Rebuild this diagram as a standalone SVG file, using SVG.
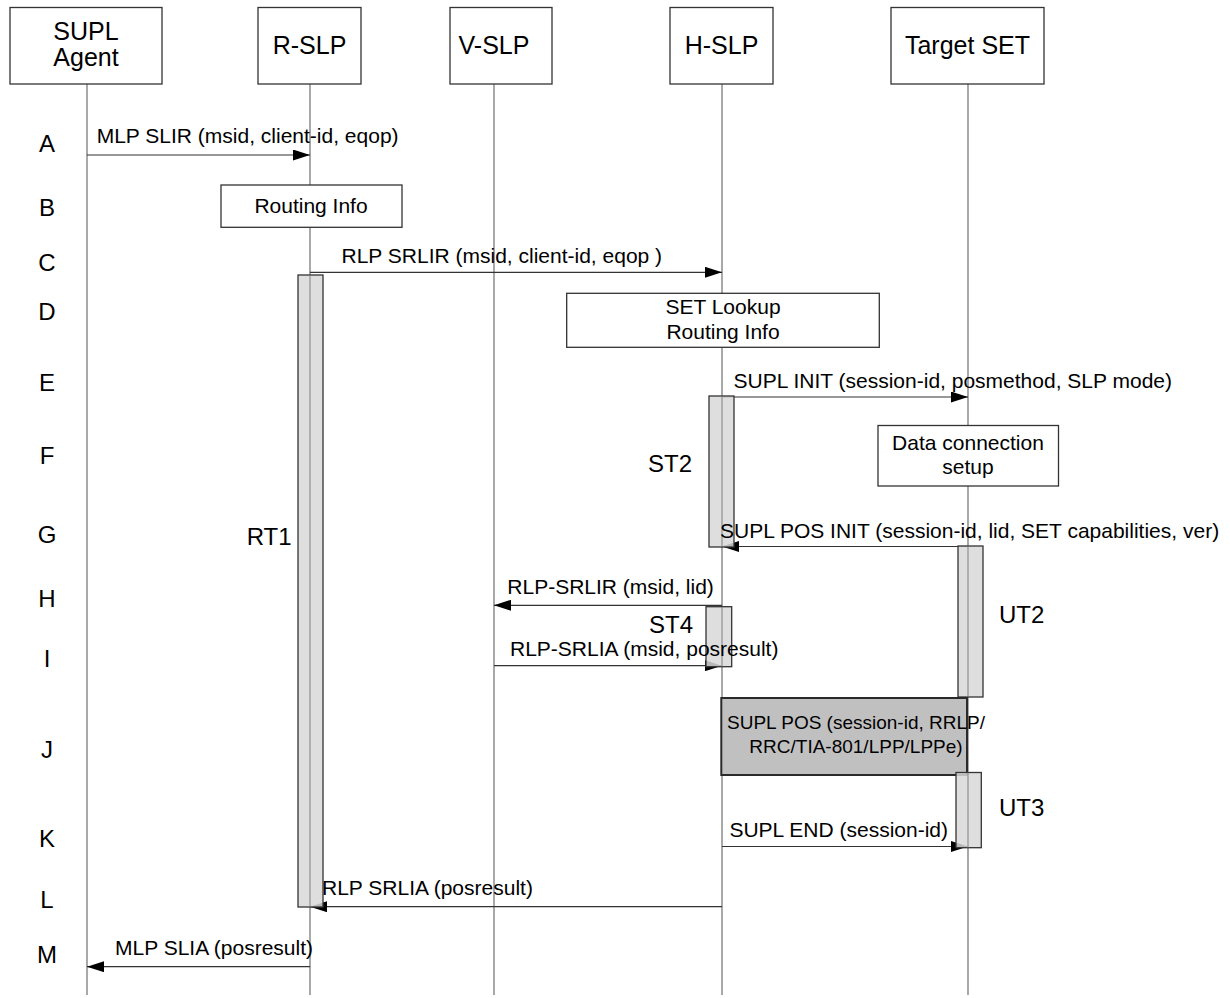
<svg xmlns="http://www.w3.org/2000/svg" width="1230" height="998" viewBox="0 0 1230 998">
<style>
text{font-family:"Liberation Sans",Arial,sans-serif;fill:#000}
.hdr{font-size:25px;text-anchor:middle}
.row{font-size:24px;text-anchor:middle}
.msg{font-size:21px}
.jt{font-size:19px;text-anchor:middle}
.mid{text-anchor:middle}
.tm{font-size:24px}
.box{fill:#fff;stroke:#333;stroke-width:1.3}
.life{stroke:#7a7a7a;stroke-width:1.3;fill:none}
.arr{stroke:#333;stroke-width:1.2;fill:none;marker-end:url(#ah)}
.bar{fill:#d8d8d8;fill-opacity:0.85;stroke:#333;stroke-width:1.3}
.jbox{fill:#c0c0c0;stroke:#2a2a2a;stroke-width:2}
</style>
<defs>
<marker id="ah" markerUnits="userSpaceOnUse" markerWidth="17" markerHeight="11" refX="17" refY="5.5" orient="auto">
<path d="M0,0 L17,5.5 L0,11 z" fill="#000"/>
</marker>
</defs>
<rect width="1230" height="998" fill="#fff"/>

<g id="lifelines">
<line class="life" x1="87" y1="84" x2="87" y2="995"/>
<line class="life" x1="310" y1="84" x2="310" y2="995"/>
<line class="life" x1="494" y1="84" x2="494" y2="995"/>
<line class="life" x1="722" y1="84" x2="722" y2="995"/>
<line class="life" x1="968" y1="84" x2="968" y2="995"/>
</g>

<g id="node-supl-agent">
<rect class="box" x="10" y="7.5" width="152" height="76.5"/>
<text class="hdr" x="86" y="39.5">SUPL</text>
<text class="hdr" x="86" y="66">Agent</text>
</g>
<g id="node-r-slp">
<rect class="box" x="258" y="7.5" width="103" height="76.5"/>
<text class="hdr" x="309.5" y="54">R-SLP</text>
</g>
<g id="node-v-slp">
<rect class="box" x="450" y="7.5" width="102" height="76.5"/>
<text class="hdr" x="494" y="54">V-SLP</text>
</g>
<g id="node-h-slp">
<rect class="box" x="670" y="7.5" width="103" height="76.5"/>
<text class="hdr" x="721.5" y="54">H-SLP</text>
</g>
<g id="node-target-set">
<rect class="box" x="891" y="7.5" width="153" height="76.5"/>
<text class="hdr" x="967.5" y="54">Target SET</text>
</g>

<g id="row-labels">
<text class="row" x="47" y="152.3">A</text>
<text class="row" x="47" y="215.7">B</text>
<text class="row" x="47" y="270.7">C</text>
<text class="row" x="47" y="320">D</text>
<text class="row" x="47" y="391">E</text>
<text class="row" x="47" y="464">F</text>
<text class="row" x="47" y="543.3">G</text>
<text class="row" x="47" y="607.3">H</text>
<text class="row" x="47" y="666.7">I</text>
<text class="row" x="47" y="758.3">J</text>
<text class="row" x="47" y="846.7">K</text>
<text class="row" x="47" y="907.7">L</text>
<text class="row" x="47" y="963.3">M</text>
</g>

<g id="node-routing-info">
<rect class="box" x="221" y="185" width="181" height="42.3"/>
<text class="msg mid" x="311" y="213">Routing Info</text>
</g>
<g id="node-set-lookup">
<rect class="box" x="566.7" y="293.3" width="312.6" height="54"/>
<text class="msg mid" x="723" y="314">SET Lookup</text>
<text class="msg mid" x="723" y="338.5">Routing Info</text>
</g>
<g id="node-data-connection">
<rect class="box" x="878" y="425.5" width="180.5" height="60.5"/>
<text class="msg mid" x="968" y="450">Data connection</text>
<text class="msg mid" x="968" y="474">setup</text>
</g>

<g id="connectors">
<line class="arr" x1="87" y1="155" x2="310" y2="155"/>
<line class="arr" x1="310" y1="272.3" x2="722" y2="272.3"/>
<line class="arr" x1="722" y1="397" x2="968" y2="397"/>
<line class="arr" x1="968" y1="546.5" x2="722" y2="546.5"/>
<line class="arr" x1="722" y1="605.3" x2="494" y2="605.3"/>
<line class="arr" x1="494" y1="665.7" x2="722" y2="665.7"/>
<line class="arr" x1="722" y1="846.5" x2="968" y2="846.5"/>
<line class="arr" x1="722" y1="906.7" x2="310" y2="906.7"/>
<line class="arr" x1="310" y1="966.7" x2="87" y2="966.7"/>
</g>

<g id="node-rt1">
<rect class="bar" x="298" y="275" width="25" height="632"/>
<line class="life" x1="310" y1="275" x2="310" y2="907" stroke-opacity="0.6"/>
<text class="tm" x="246.7" y="545">RT1</text>
</g>
<g id="node-st2">
<rect class="bar" x="709" y="396" width="25" height="151"/>
<line class="life" x1="722" y1="396" x2="722" y2="547" stroke-opacity="0.6"/>
<text class="tm" x="648" y="471.7">ST2</text>
</g>
<g id="node-st4">
<rect class="bar" x="706" y="606.7" width="25.7" height="60"/>
<line class="life" x1="722" y1="606.7" x2="722" y2="666.7" stroke-opacity="0.6"/>
<text class="tm" x="649" y="633">ST4</text>
</g>
<g id="node-ut2">
<rect class="bar" x="958" y="546" width="25" height="151"/>
<line class="life" x1="968" y1="546" x2="968" y2="697" stroke-opacity="0.6"/>
<text class="tm" x="999" y="623">UT2</text>
</g>
<g id="node-supl-pos">
<rect class="jbox" x="721.3" y="698" width="245.7" height="77"/>
<text class="jt" x="856" y="729">SUPL POS (session-id, RRLP/</text>
<text class="jt" x="856" y="753">RRC/TIA-801/LPP/LPPe)</text>
</g>
<g id="node-ut3">
<rect class="bar" x="956" y="772.5" width="25.3" height="75.2"/>
<line class="life" x1="968" y1="772.5" x2="968" y2="847.7" stroke-opacity="0.6"/>
<text class="tm" x="999" y="815.7">UT3</text>
</g>

<g id="connector-labels">
<text class="msg" x="96.7" y="143.3">MLP SLIR (msid, client-id, eqop)</text>
<text class="msg" x="341.5" y="263.3">RLP SRLIR (msid, client-id, eqop )</text>
<text class="msg" x="733.5" y="388.3">SUPL INIT (session-id, posmethod, SLP mode)</text>
<text class="msg" x="720" y="538.3">SUPL POS INIT (session-id, lid, SET capabilities, ver)</text>
<text class="msg" x="507.3" y="594">RLP-SRLIR (msid, lid)</text>
<text class="msg" x="510" y="656">RLP-SRLIA (msid, posresult)</text>
<text class="msg" x="729.4" y="836.7">SUPL END (session-id)</text>
<text class="msg" x="322" y="895">RLP SRLIA (posresult)</text>
<text class="msg" x="115" y="955">MLP SLIA (posresult)</text>
</g>
</svg>
